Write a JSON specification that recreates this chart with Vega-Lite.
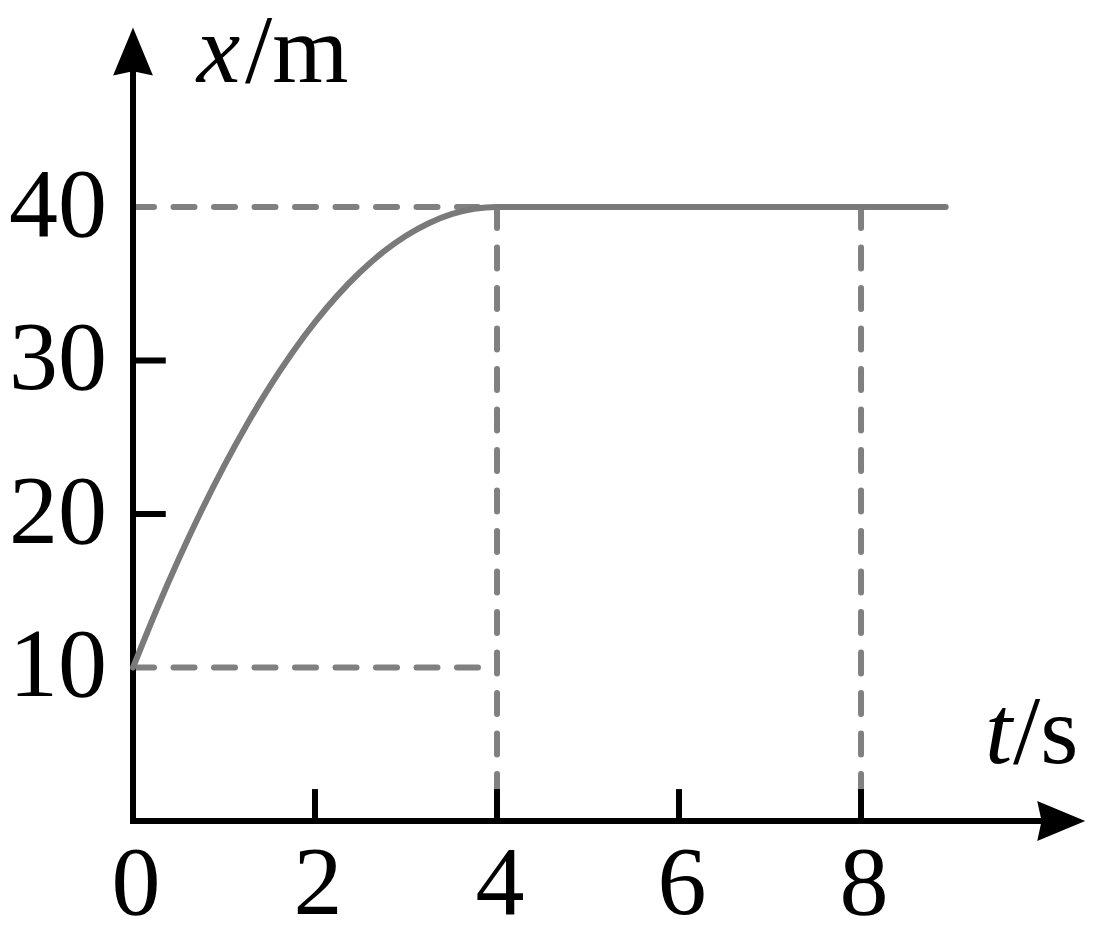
{
  "$schema": "https://vega.github.io/schema/vega-lite/v6.json",
  "width": 964,
  "height": 821,
  "autosize": {"type": "none"},
  "padding": {"left": 133, "top": 0, "right": 0, "bottom": 107},
  "background": "white",
  "config": {"view": {"stroke": null}},
  "datasets": {
    "axes": [
      {"x": 0, "y": 0, "x2": 0, "y2": 49},
      {"x": 0, "y": 0, "x2": 10, "y2": 0}
    ],
    "ticks": [
      {"x": 2, "y": 0, "x2": 2, "y2": 2.08},
      {"x": 4, "y": 0, "x2": 4, "y2": 2.08},
      {"x": 6, "y": 0, "x2": 6, "y2": 2.08},
      {"x": 8, "y": 0, "x2": 8, "y2": 2.08},
      {"x": 0, "y": 20, "x2": 0.36, "y2": 20},
      {"x": 0, "y": 30, "x2": 0.36, "y2": 30}
    ],
    "guides": [
      {"x": 0, "y": 40, "x2": 4, "y2": 40},
      {"x": 0, "y": 10, "x2": 4, "y2": 10},
      {"x": 4, "y": 40, "x2": 4, "y2": 0},
      {"x": 8, "y": 40, "x2": 8, "y2": 0}
    ],
    "curve": [
      {"t": 0, "x": 10},
      {"t": 0.25, "x": 13.633},
      {"t": 0.5, "x": 17.031},
      {"t": 0.75, "x": 20.195},
      {"t": 1, "x": 23.125},
      {"t": 1.25, "x": 25.82},
      {"t": 1.5, "x": 28.281},
      {"t": 1.75, "x": 30.508},
      {"t": 2, "x": 32.5},
      {"t": 2.25, "x": 34.258},
      {"t": 2.5, "x": 35.781},
      {"t": 2.75, "x": 37.07},
      {"t": 3, "x": 38.125},
      {"t": 3.25, "x": 38.945},
      {"t": 3.5, "x": 39.531},
      {"t": 3.75, "x": 39.883},
      {"t": 4, "x": 40},
      {"t": 8.93, "x": 40}
    ],
    "arrows": [
      {"x": 0, "y": 50.13, "dir": "up"},
      {"x": 10.2, "y": 0, "dir": "right"}
    ],
    "xlabels": [
      {"t": 0, "label": "0"},
      {"t": 2, "label": "2"},
      {"t": 4, "label": "4"},
      {"t": 6, "label": "6"},
      {"t": 8, "label": "8"}
    ],
    "ylabels": [
      {"v": 10, "label": "10"},
      {"v": 20, "label": "20"},
      {"v": 30, "label": "30"},
      {"v": 40, "label": "40"}
    ]
  },
  "layer": [
    {
      "data": {"name": "guides"},
      "mark": {"type": "rule", "stroke": "#808080", "strokeWidth": 6, "strokeDash": [21, 19.5], "strokeCap": "round"},
      "encoding": {
        "x": {"field": "x", "type": "quantitative", "scale": {"domain": [0, 10.593], "nice": false, "zero": false}, "axis": null},
        "y": {"field": "y", "type": "quantitative", "scale": {"domain": [0, 53.485], "nice": false, "zero": false}, "axis": null},
        "x2": {"field": "x2"},
        "y2": {"field": "y2"}
      }
    },
    {
      "data": {"name": "axes"},
      "mark": {"type": "rule", "stroke": "black", "strokeWidth": 6, "strokeCap": "square"},
      "encoding": {
        "x": {"field": "x", "type": "quantitative", "scale": {"domain": [0, 10.593], "nice": false, "zero": false}, "axis": null},
        "y": {"field": "y", "type": "quantitative", "scale": {"domain": [0, 53.485], "nice": false, "zero": false}, "axis": null},
        "x2": {"field": "x2"},
        "y2": {"field": "y2"}
      }
    },
    {
      "data": {"name": "ticks"},
      "mark": {"type": "rule", "stroke": "black", "strokeWidth": 6, "strokeCap": "butt"},
      "encoding": {
        "x": {"field": "x", "type": "quantitative", "scale": {"domain": [0, 10.593], "nice": false, "zero": false}, "axis": null},
        "y": {"field": "y", "type": "quantitative", "scale": {"domain": [0, 53.485], "nice": false, "zero": false}, "axis": null},
        "x2": {"field": "x2"},
        "y2": {"field": "y2"}
      }
    },
    {
      "data": {"name": "curve"},
      "mark": {"type": "line", "stroke": "#7a7a7a", "strokeWidth": 6, "strokeCap": "round", "interpolate": "monotone"},
      "encoding": {
        "x": {"field": "t", "type": "quantitative", "scale": {"domain": [0, 10.593], "nice": false, "zero": false}, "axis": null},
        "y": {"field": "x", "type": "quantitative", "scale": {"domain": [0, 53.485], "nice": false, "zero": false}, "axis": null},
        "order": {"field": "t", "type": "quantitative"}
      }
    },
    {
      "data": {"name": "arrows"},
      "mark": {"type": "point", "filled": true, "color": "black", "size": 2304, "opacity": 1},
      "encoding": {
        "x": {"field": "x", "type": "quantitative", "scale": {"domain": [0, 10.593], "nice": false, "zero": false}, "axis": null},
        "y": {"field": "y", "type": "quantitative", "scale": {"domain": [0, 53.485], "nice": false, "zero": false}, "axis": null},
        "shape": {"field": "dir", "type": "nominal", "scale": {"domain": ["up", "right"], "range": ["M0,-1L0.83,1L0,0.82L-0.83,1Z", "M1,0L-1,0.83L-0.82,0L-1,-0.83Z"]}, "legend": null}
      }
    },
    {
      "data": {"name": "xlabels"},
      "mark": {"type": "text", "font": "Liberation Serif", "fontSize": 98, "align": "center", "baseline": "alphabetic", "dx": 3, "dy": 93, "color": "black"},
      "encoding": {
        "x": {"field": "t", "type": "quantitative", "scale": {"domain": [0, 10.593], "nice": false, "zero": false}, "axis": null},
        "y": {"datum": 0, "type": "quantitative", "scale": {"domain": [0, 53.485], "nice": false, "zero": false}, "axis": null},
        "text": {"field": "label"}
      }
    },
    {
      "data": {"name": "ylabels"},
      "mark": {"type": "text", "font": "Liberation Serif", "fontSize": 98, "align": "right", "baseline": "middle", "dx": -26, "dy": 0, "color": "black"},
      "encoding": {
        "x": {"datum": 0, "type": "quantitative", "scale": {"domain": [0, 10.593], "nice": false, "zero": false}, "axis": null},
        "y": {"field": "v", "type": "quantitative", "scale": {"domain": [0, 53.485], "nice": false, "zero": false}, "axis": null},
        "text": {"field": "label"}
      }
    },
    {
      "data": {"values": [{"label": "x"}]},
      "mark": {"type": "text", "font": "Liberation Serif", "fontSize": 98, "fontStyle": "italic", "align": "left", "baseline": "alphabetic", "color": "black"},
      "encoding": {
        "x": {"datum": 0.7, "type": "quantitative", "scale": {"domain": [0, 10.593], "nice": false, "zero": false}, "axis": null},
        "y": {"datum": 48.14, "type": "quantitative", "scale": {"domain": [0, 53.485], "nice": false, "zero": false}, "axis": null},
        "text": {"field": "label"}
      }
    },
    {
      "data": {"values": [{"label": "/m"}]},
      "mark": {"type": "text", "font": "Liberation Serif", "fontSize": 98, "align": "left", "baseline": "alphabetic", "color": "black"},
      "encoding": {
        "x": {"datum": 1.23, "type": "quantitative", "scale": {"domain": [0, 10.593], "nice": false, "zero": false}, "axis": null},
        "y": {"datum": 48.14, "type": "quantitative", "scale": {"domain": [0, 53.485], "nice": false, "zero": false}, "axis": null},
        "text": {"field": "label"}
      }
    },
    {
      "data": {"values": [{"label": "t"}]},
      "mark": {"type": "text", "font": "Liberation Serif", "fontSize": 98, "fontStyle": "italic", "align": "left", "baseline": "alphabetic", "color": "black"},
      "encoding": {
        "x": {"datum": 9.363, "type": "quantitative", "scale": {"domain": [0, 10.593], "nice": false, "zero": false}, "axis": null},
        "y": {"datum": 3.78, "type": "quantitative", "scale": {"domain": [0, 53.485], "nice": false, "zero": false}, "axis": null},
        "text": {"field": "label"}
      }
    },
    {
      "data": {"values": [{"label": "/s"}]},
      "mark": {"type": "text", "font": "Liberation Serif", "fontSize": 98, "align": "left", "baseline": "alphabetic", "color": "black"},
      "encoding": {
        "x": {"datum": 9.67, "type": "quantitative", "scale": {"domain": [0, 10.593], "nice": false, "zero": false}, "axis": null},
        "y": {"datum": 3.78, "type": "quantitative", "scale": {"domain": [0, 53.485], "nice": false, "zero": false}, "axis": null},
        "text": {"field": "label"}
      }
    }
  ]
}
